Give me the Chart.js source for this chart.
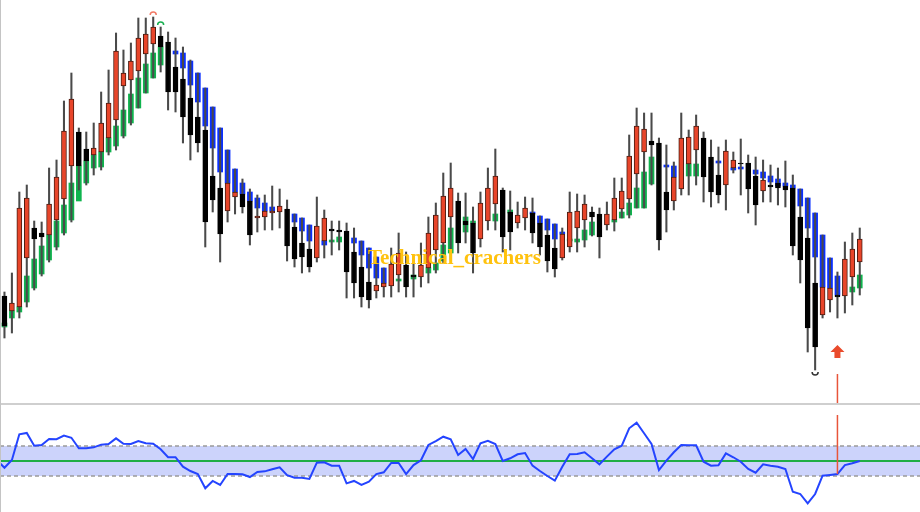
<!DOCTYPE html>
<html>
<head>
<meta charset="utf-8">
<script src="https://cdn.jsdelivr.net/npm/chart.js@4.4.1/dist/chart.umd.min.js"></script>
<style>
html, body { margin: 0; padding: 0; background: #fff; }
#wrap { position: relative; width: 920px; height: 512px; overflow: hidden; background: #fff; }
#price { position: absolute; left: 0; top: 0; }
#osc { position: absolute; left: 0; top: 404px; }
#sep { position: absolute; left: 0; top: 403px; width: 920px; height: 2px; background: #cfcfcf; }
#edge { position: absolute; left: 0; top: 0; width: 1px; height: 512px; background: #c4c4c4; }
#mark { position: absolute; left: 368px; top: 247px; font: bold 21px/21px "Liberation Serif", "DejaVu Serif", serif; color: #ffc20e; white-space: nowrap; }
</style>
</head>
<body>
<div id="wrap">
  <canvas id="price" width="920" height="404"></canvas>
  <canvas id="osc" width="920" height="108"></canvas>
  <div id="sep"></div>
  <div id="edge"></div>
  <div id="mark">Technical_crachers</div>
</div>
<script>
// candles, one per bar index 0..115
const open = [104,89,93,142,172,167,165,180,201,234, 268,251,245,248,262,280,314,320,329,346,
    356,364,358,333,321,302,283,270,224,212, 189,203,206,199,182,183,187,188,191,173,
    157,151,142,159,171,170,169,148,133,118, 109,113,114,125,135,125,123,132,150,157,
    183,199,179,177,161,179,196,210,188,177, 182,187,177,165,152,142,153,172,180,188,
    186,175,180,191,201,226,248,259,257,208, 199,211,236,250,262,243,225,215,232,237,
    237,224,209,215,217,214,212,183,162,117, 85,100,105,104,123,138]
const high = [108,127,208,215,179,178,232,240,299,327, 272,268,277,308,330,367,350,357,382,382,
    383,373,368,362,353,340,327,312,293,272, 250,231,221,211,205,205,214,211,200,186,
    182,175,203,190,179,179,177,172,159,152, 143,132,152,167,148,140,157,183,197,227,
    237,207,207,193,208,232,251,212,209,198, 203,202,184,181,176,172,208,206,205,193,
    192,198,222,222,265,292,287,287,262,255, 238,287,270,285,268,260,253,260,248,261,
    245,243,240,235,232,239,225,211,202,187, 165,142,128,158,167,172]
const low = [62,67,82,93,110,124,138,150,165,178, 210,215,225,230,245,250,262,275,292,307,
    322,328,290,288,257,240,248,153,188,138, 178,186,187,155,168,170,170,172,139,133,
    127,128,138,142,145,150,102,102,93,92, 102,103,103,108,103,103,113,117,127,137,
    140,147,157,127,153,170,170,148,150,172, 170,157,145,128,123,140,148,148,153,164,
    142,170,169,182,182,192,192,215,150,168, 190,205,205,215,198,193,197,190,227,205,
    187,175,198,198,195,193,145,117,48,30, 82,88,82,87,95,105]
const close = [74,97,192,202,161,163,196,223,269,301, 234,239,252,277,297,349,327,339,362,366,
    373,353,308,308,283,265,257,178,200,166, 217,208,193,165,184,189,189,194,154,141,
    143,133,174,182,169,168,128,117,103,100, 115,117,136,147,113,123,135,167,185,204,
    212,157,175,147,197,212,224,163,168,185, 192,167,153,139,131,166,188,189,196,183,
    163,186,202,209,244,274,271,255,160,190, 223,262,263,274,223,208,205,249,240,236,
    211,195,220,213,212,210,154,140,72,53, 113,112,103,141,151,161]

// smoothed trend bodies (null = hidden behind the candle)
const trendOpen = [73,82,88,98,112,126,140,153,167,180, 199,217,232,233,248,254,264,277,292,307,
    322,335,null,349,347,339,327,312,293,272, 250,231,217,208,202,197,193,null,null,186,
    182,175,null,159,158,158,null,162,159,152, 143,132,null,119,null,121,null,127,130,139,
    147,null,168,177,null,null,179,null,187,null, null,188,184,181,176,168,159,158,160,165,
    null,null,178,182,185,192,192,216,null,235, 234,null,224,224,null,null,239,null,232,233,
    null,230,228,224,221,217,215,211,202,187, 165,142,124,null,108,112]
const trendClose = [77,89,93,124,141,154,165,179,195,217, 234,239,245,248,262,274,290,306,322,336,
    347,353,null,346,332,315,298,274,252,228, 217,208,206,199,192,189,189,null,null,178,
    169,159,null,155,160,163,null,157,145,132, 122,117,null,121,null,125,null,132,137,155,
    172,null,183,179,null,null,186,null,190,null, null,186,177,170,161,166,161,161,170,178,
    null,null,180,188,197,212,228,243,null,233, 223,null,236,236,null,null,237,null,230,231,
    null,226,222,218,214,214,212,194,172,143, 113,112,105,null,113,125]

// oscillator, starting one bar before the first candle
const oscFirstIndex = -1
const oscValues = [50.5,
    45.5,50.7,67.8,68.7,60.2,60.7,64.7,64.5,66.9,65.5, 58.5,58.5,59.1,60.9,61.3,65.1,61.5,61.3,63.3,61.8,
    61.5,57.8,52.5,52.5,46.2,43.3,41.3,31.8,36.7,34, 41.3,41.3,41.1,39.3,42.7,43.1,44.5,45.8,40.5,38.9,
    38.9,38,48.9,49.1,46.9,46.9,35.1,36.7,34,36.2, 41.3,42.5,48.7,48.7,41.3,47.3,50.5,60.7,63.3,66.2,
    64.5,54,58,51.3,61.8,63.5,61.3,50,51.8,54.5, 55.3,46.9,43.3,40,36.9,46.2,54.5,54.7,55.8,51.8,
    47.8,52.9,57.8,60.2,71.8,75.5,68.5,61.3,44,50.2, 55.8,60.7,60.5,60.5,49.5,46.9,47.1,55.1,52.5,49.5,
    44.7,42.2,47.8,46.9,46.2,44.7,29.5,28,21.8,28, 40.2,40.7,41.3,47.3,48.5,50]
const oscUpper = 60
const oscMiddle = 50
const oscLower = 40

// fractal marks and the buy signal
const peakMarks = [20, 21]
const troughMarks = [109]
const signalIndex = 112
const signalPrice = 55

const xMin = -0.6, xMax = 123.1

const RED = '#e8452a', BLACK = '#000000', GREEN = '#0fb44e', BLUE = '#0a30ff'

const candleBodies = open.map((o, i) => ({ x: i, y: [o, close[i]] }))
const candleWicks = open.map((o, i) => ({ x: i, y: [low[i], high[i]] }))
const trendBodies = []
trendOpen.forEach((o, i) => {
    if (o !== null) trendBodies.push({ x: i, y: [o, trendClose[i]] })
})

const signalPlugin = {
    id: 'signalPlugin',
    afterDatasetsDraw(chart) {
        const { ctx, scales: { x, y } } = chart
        ctx.save()
        ctx.lineWidth = 1.5
        peakMarks.forEach((i, k) => {
            const px = x.getPixelForValue(i)
            const py = y.getPixelForValue(high[i]) - 2
            ctx.strokeStyle = k === 0 ? '#f27a66' : '#18b050'
            ctx.beginPath()
            ctx.arc(px, py, 3, Math.PI, 2 * Math.PI)
            ctx.stroke()
        })
        troughMarks.forEach(i => {
            const px = x.getPixelForValue(i)
            const py = y.getPixelForValue(low[i]) + 2
            ctx.strokeStyle = '#333'
            ctx.beginPath()
            ctx.arc(px, py, 3, 0, Math.PI)
            ctx.stroke()
        })
        // arrow
        const ax = x.getPixelForValue(signalIndex)
        const ay = y.getPixelForValue(signalPrice)
        ctx.fillStyle = '#ea4b2c'
        ctx.beginPath()
        ctx.moveTo(ax, ay)
        ctx.lineTo(ax + 7, ay + 7)
        ctx.lineTo(ax + 3, ay + 7)
        ctx.lineTo(ax + 3, ay + 13)
        ctx.lineTo(ax - 3, ay + 13)
        ctx.lineTo(ax - 3, ay + 7)
        ctx.lineTo(ax - 7, ay + 7)
        ctx.closePath()
        ctx.fill()
        // signal line down to the oscillator
        ctx.strokeStyle = '#e8553a'
        ctx.beginPath()
        ctx.moveTo(ax, ay + 29)
        ctx.lineTo(ax, chart.height)
        ctx.stroke()
        ctx.restore()
    }
}

new Chart(document.getElementById('price'), {
    type: 'bar',
    data: {
        datasets: [
            {
                data: candleBodies, grouped: false, barThickness: 5,
                backgroundColor: candleBodies.map(d => d.y[1] >= d.y[0] ? RED : BLACK),
                borderColor: candleBodies.map(d => d.y[1] >= d.y[0] ? '#4a1c12' : BLACK),
                borderWidth: 1, borderSkipped: false
            },
            { data: candleWicks, grouped: false, barThickness: 1.4, backgroundColor: '#4a4a4a' },
            {
                data: trendBodies, grouped: false, barThickness: 5,
                backgroundColor: trendBodies.map(d => d.y[1] >= d.y[0] ? GREEN : BLUE)
            }
        ]
    },
    options: {
        responsive: false,
        animation: false,
        layout: { padding: 0 },
        plugins: { legend: { display: false }, tooltip: { enabled: false } },
        scales: {
            x: { type: 'linear', min: xMin, max: xMax, offset: false, display: false },
            y: { type: 'linear', min: -4, max: 400, beginAtZero: false, display: false }
        }
    },
    plugins: [signalPlugin]
})

const oscPoints = oscValues.map((v, k) => ({ x: k + oscFirstIndex, y: v }))
const levelLine = v => [{ x: xMin, y: v }, { x: xMax, y: v }]

const oscSignalPlugin = {
    id: 'oscSignalPlugin',
    afterDatasetsDraw(chart) {
        const { ctx, scales: { x, y } } = chart
        const px = x.getPixelForValue(signalIndex)
        ctx.save()
        ctx.strokeStyle = '#e8553a'
        ctx.lineWidth = 1.5
        ctx.beginPath()
        ctx.moveTo(px, 11)
        ctx.lineTo(px, y.getPixelForValue(oscValues[signalIndex - oscFirstIndex]))
        ctx.stroke()
        ctx.restore()
    }
}

new Chart(document.getElementById('osc'), {
    type: 'line',
    data: {
        datasets: [
            { data: oscPoints, borderColor: '#2444ff', borderWidth: 2, pointRadius: 0, tension: 0 },
            { data: levelLine(oscUpper), borderColor: '#9a9a9a', borderWidth: 1.5, borderDash: [4, 3], pointRadius: 0, fill: '+1', backgroundColor: '#ccd3fb' },
            { data: levelLine(oscLower), borderColor: '#9a9a9a', borderWidth: 1.5, borderDash: [4, 3], pointRadius: 0 },
            { data: levelLine(oscMiddle), borderColor: '#1fae45', borderWidth: 2, pointRadius: 0 }
        ]
    },
    options: {
        responsive: false,
        animation: false,
        layout: { padding: 0 },
        plugins: { legend: { display: false }, tooltip: { enabled: false }, filler: { drawTime: 'beforeDatasetsDraw' } },
        scales: {
            x: { type: 'linear', min: xMin, max: xMax, display: false },
            y: { type: 'linear', min: 16, max: 88, display: false }
        }
    },
    plugins: [oscSignalPlugin]
})
</script>
</body>
</html>
